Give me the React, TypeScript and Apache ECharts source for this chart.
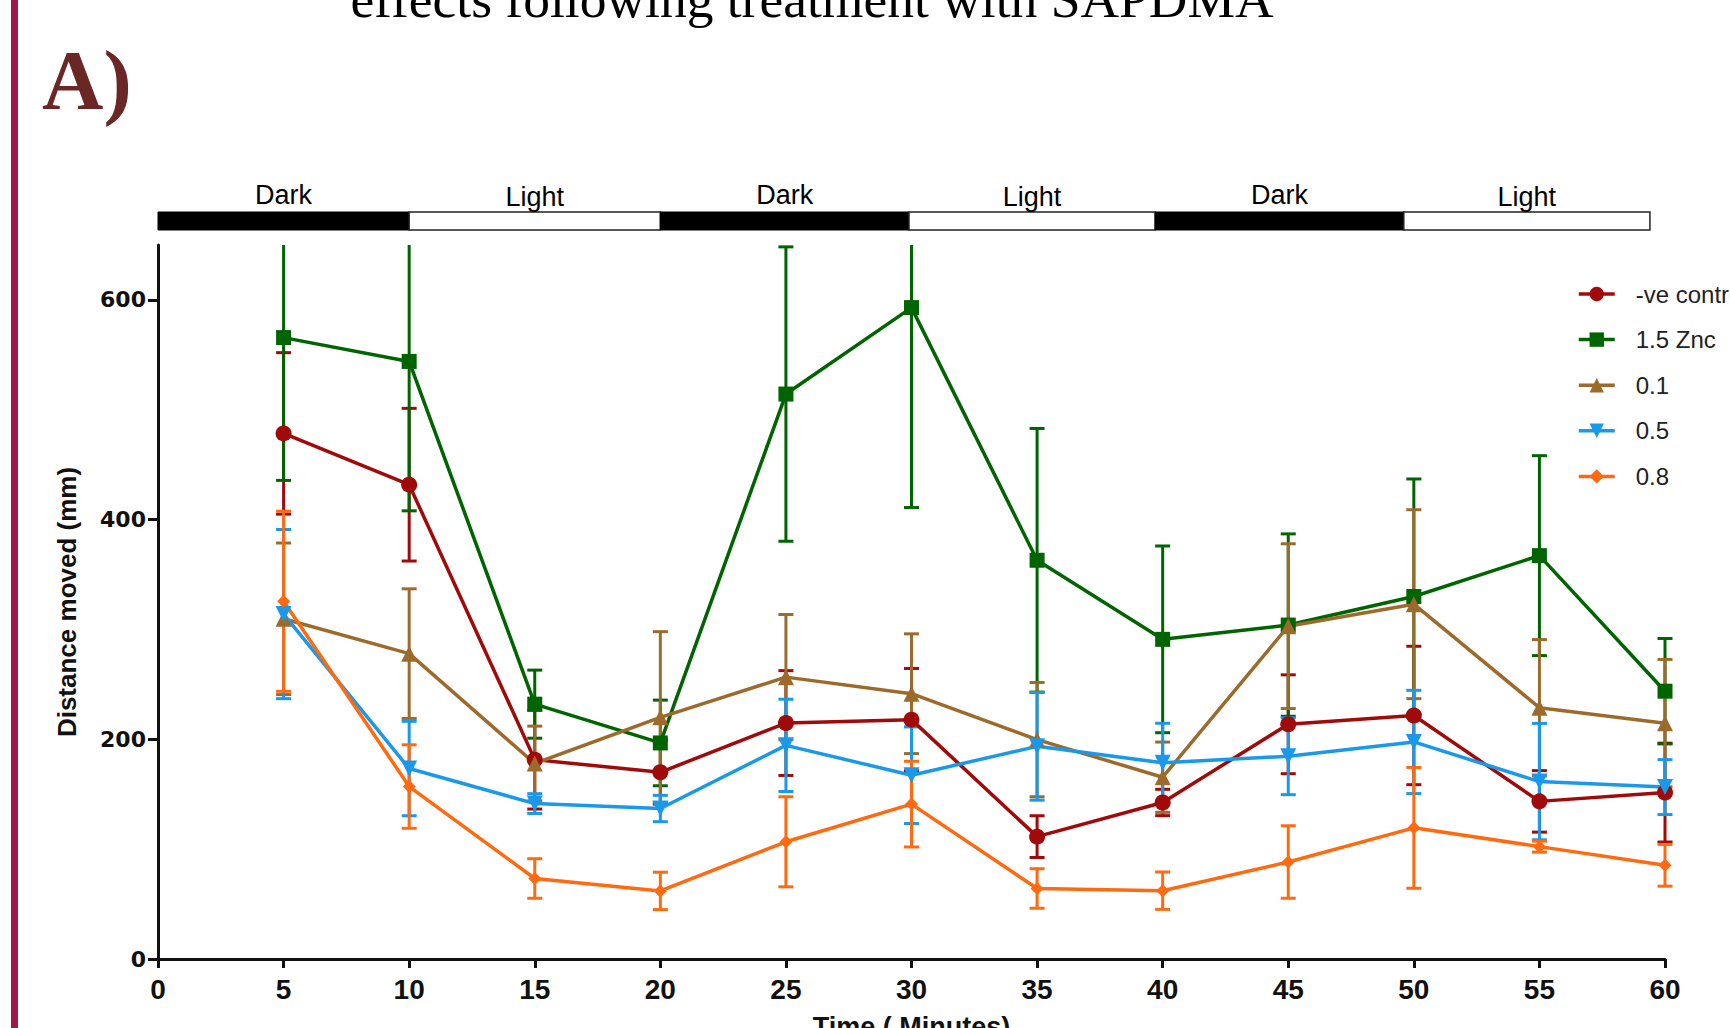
import React, { useEffect, useRef } from "react";
import * as echarts from "echarts";

// ---------- data ----------
const times = [5, 10, 15, 20, 25, 30, 35, 40, 45, 50, 55, 60];
const seriesNames = ["-ve control", "1.5 Znc", "0.1", "0.5", "0.8"];

const negControlMean = [478.5, 431.8, 181.5, 170, 214.8, 217.9, 111.4, 142.5, 213.7, 221.7, 143.5, 151.5];
const negControlErr = [73.5, 69.5, 45, 29, 47.7, 46.6, 19, 12, 45, 63, 28, 45];

const zncMean = [565.7, 544, 232, 196.7, 514.3, 593, 363, 291, 304, 330, 367.2, 243.8];
const zncErr = [130, 136, 31, 39, 134, 182, 120, 85, 83, 107, 91, 48];

const dose01Mean = [309.7, 278, 178, 220, 256.6, 241.5, 199.7, 165.5, 303, 323, 228.8, 214.7];
const dose01Err = [69, 59, 34, 78, 57, 54.5, 52, 32, 75, 86, 62, 58];

const dose05Mean = [314, 173.4, 141.5, 137, 194.5, 167.3, 193.6, 178.6, 184.6, 197.6, 161.5, 156.5];
const dose05Err = [77, 43, 9, 12, 42, 44, 49, 36, 35, 47, 53, 25];

const dose08Mean = [325.7, 157, 73.3, 62, 106.7, 141, 64.2, 62.2, 88.3, 119.4, 102.3, 85.3];
const dose08Err = [82, 38, 18, 17, 41, 39, 18, 17, 33, 55, 5, 19];

const phaseLabels = ["Dark", "Light", "Dark", "Light", "Dark", "Light"];
const phaseStarts = [0, 10, 20, 29.9, 39.7, 49.6];
const phaseEnds = [10, 20, 29.9, 39.7, 49.6, 59.4];

const yTickValues = [0, 200, 400, 600];

// ---------- styles ----------
const Y_MAX = 650;
const colors = ["#a00a0a", "#006400", "#9c6b2c", "#1a98ea", "#ff6a10"];
const symbols = ["circle", "rect", "triangle", "triangle", "diamond"];
const symbolRotates = [0, 0, 0, 180, 0];
const symbolSizes = [16, 15, 16, 16, 13];
const means = [negControlMean, zncMean, dose01Mean, dose05Mean, dose08Mean];
const errs = [negControlErr, zncErr, dose01Err, dose05Err, dose08Err];

const SANS = "'Liberation Sans', Arial, sans-serif";
const NARROW = "'Liberation Sans Narrow', 'Liberation Sans', Arial, sans-serif";

export default function App() {
  const ref = useRef<HTMLDivElement>(null);

  useEffect(() => {
    if (!ref.current) return;
    const chart = echarts.init(ref.current, null, { renderer: "svg" });

    const lineSeries = seriesNames.map((name, i) => ({
      name,
      type: "line",
      xAxisIndex: 0,
      yAxisIndex: 0,
      data: times.map((t, k) => [t, means[i][k]]),
      symbol: symbols[i],
      symbolRotate: symbolRotates[i],
      symbolSize: symbolSizes[i],
      showAllSymbol: true,
      lineStyle: { color: colors[i], width: 3.5 },
      itemStyle: { color: colors[i] },
      z: 4,
    }));

    const errSeries = seriesNames.map((name, i) => ({
      name: "err_" + i,
      type: "custom",
      xAxisIndex: 0,
      yAxisIndex: 0,
      z: 3,
      data: times.map((t, k) => [t, means[i][k] - errs[i][k], means[i][k] + errs[i][k]]),
      encode: { x: 0, y: [1, 2] },
      renderItem: (params: any, api: any) => {
        const x = api.value(0);
        const lo = api.value(1);
        const hi = api.value(2);
        const top = Math.min(hi, Y_MAX);
        const pLo = api.coord([x, lo]);
        const pHi = api.coord([x, top]);
        const st = { stroke: colors[i], lineWidth: 3 };
        const children: any[] = [
          { type: "line", shape: { x1: pLo[0], y1: pLo[1], x2: pHi[0], y2: pHi[1] }, style: st },
          { type: "line", shape: { x1: pLo[0] - 7.5, y1: pLo[1], x2: pLo[0] + 7.5, y2: pLo[1] }, style: st },
        ];
        if (hi <= Y_MAX) {
          children.push({ type: "line", shape: { x1: pHi[0] - 7.5, y1: pHi[1], x2: pHi[0] + 7.5, y2: pHi[1] }, style: st });
        }
        return { type: "group", children };
      },
    }));

    const phaseSeries = {
      name: "phases",
      type: "custom",
      xAxisIndex: 1,
      yAxisIndex: 1,
      data: phaseStarts.map((s, k) => [s, phaseEnds[k], k % 2]),
      renderItem: (params: any, api: any) => {
        const s = api.value(0);
        const e = api.value(1);
        const light = api.value(2) === 1;
        const p0 = api.coord([s, 0]);
        const p1 = api.coord([e, 1]);
        return {
          type: "group",
          children: [
            {
              type: "rect",
              shape: { x: p0[0], y: p1[1], width: p1[0] - p0[0], height: p0[1] - p1[1] },
              style: light ? { fill: "#fff", stroke: "#222", lineWidth: 1.5 } : { fill: "#000", stroke: "#000", lineWidth: 1 },
            },
            {
              type: "text",
              x: (p0[0] + p1[0]) / 2,
              y: p1[1] - (light ? 2 : 4),
              style: {
                text: phaseLabels[params.dataIndex],
                fill: "#000",
                font: "27px " + SANS,
                textAlign: "center",
                textVerticalAlign: "bottom",
              },
            },
          ],
        };
      },
    };

    chart.setOption({
      animation: false,
      backgroundColor: "#fff",
      grid: [
        { left: 158, right: 65, top: 245, bottom: 69, containLabel: false, outerBoundsMode: "none" },
        { left: 158, right: 65, top: 212, height: 18, containLabel: false, outerBoundsMode: "none" },
      ],
      xAxis: [
        {
          type: "value",
          gridIndex: 0,
          min: 0,
          max: 60,
          interval: 5,
          splitLine: { show: false },
          axisLine: { lineStyle: { color: "#111", width: 3 } },
          axisTick: { length: 9, lineStyle: { color: "#111", width: 3 } },
          axisLabel: { margin: 16, color: "#111", fontSize: 28, fontWeight: "bold", fontFamily: NARROW },
          name: "Time ( Minutes)",
          nameLocation: "middle",
          nameGap: 54,
          nameTextStyle: { fontSize: 27, fontWeight: "bold", fontFamily: SANS, color: "#111" },
        },
        { type: "value", gridIndex: 1, min: 0, max: 60, show: false },
      ],
      yAxis: [
        {
          type: "value",
          gridIndex: 0,
          min: 0,
          max: Y_MAX,
          interval: 200,
          splitLine: { show: false },
          axisLine: { show: true, lineStyle: { color: "#111", width: 3 } },
          axisTick: { show: true, length: 10, customValues: yTickValues, lineStyle: { color: "#111", width: 3 } },
          axisLabel: {
            margin: 12,
            customValues: yTickValues,
            color: "#111",
            fontSize: 22,
            fontWeight: "bold",
            fontFamily: "'DejaVu Sans', sans-serif",
          },
          name: "Distance moved (mm)",
          nameLocation: "middle",
          nameGap: 78,
          nameTextStyle: { fontSize: 26, fontWeight: "bold", fontFamily: SANS, color: "#111" },
        },
        { type: "value", gridIndex: 1, min: 0, max: 1, show: false },
      ],
      legend: {
        data: seriesNames,
        orient: "vertical",
        left: 1572,
        top: 277,
        itemWidth: 36,
        itemHeight: 18,
        itemGap: 21.6,
        lineStyle: { width: 3.5 },
        textStyle: { fontSize: 24, fontFamily: SANS, color: "#222", padding: [0, 0, 0, 16] },
      },
      graphic: [
        { type: "rect", shape: { x: 11, y: 0, width: 7, height: 1028 }, style: { fill: "#a3164c" } },
        {
          type: "text",
          x: 812,
          y: -1,
          style: {
            text: "effects following treatment with SAPDMA",
            font: "53.5px 'Liberation Serif', 'Times New Roman', serif",
            fill: "#000",
            textAlign: "center",
            textVerticalAlign: "middle",
          },
        },
        {
          type: "text",
          x: 42,
          y: 79.7,
          style: {
            text: "A)",
            font: "bold 85px 'Liberation Serif', 'Times New Roman', serif",
            fill: "#6b2626",
            textAlign: "left",
            textVerticalAlign: "middle",
          },
        },
      ],
      series: [...errSeries, ...lineSeries, phaseSeries],
    });

    return () => chart.dispose();
  }, []);

  return (
    <div
      ref={ref}
      style={{ position: "absolute", left: 0, top: 0, width: 1730, height: 1028, background: "#fff" }}
    />
  );
}
